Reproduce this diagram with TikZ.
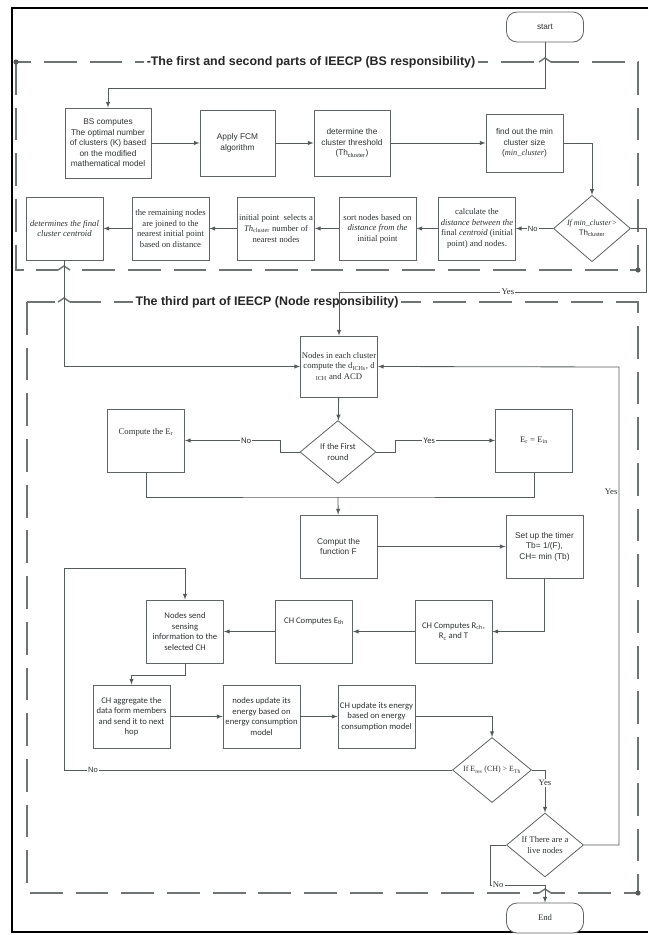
\documentclass[tikz,border=0pt]{standalone}
\usepackage{fontspec}
\setmainfont{Liberation Sans}
\newfontfamily\tmsfont{Liberation Serif}
\newfontfamily\calfont{Carlito}
\usetikzlibrary{shapes.geometric,arrows.meta,calc}
\definecolor{boxgray}{HTML}{5F6566}
\definecolor{flowgray}{HTML}{555A5B}
\definecolor{contgray}{HTML}{6E7374}
\definecolor{txtgray}{HTML}{2E3233}
\tikzset{>=latex,
	box/.style={draw=boxgray,line width=0.7pt,fill=white,align=center,inner sep=1pt,minimum width=2.31cm,minimum height=1.89cm,text=txtgray,font=\fontsize{7.1}{9}\selectfont},
	cond/.style={diamond,draw=boxgray,line width=0.7pt,fill=white,align=center,inner sep=0pt,text=txtgray,font=\fontsize{6.8}{8.3}\selectfont},
	term/.style={draw=boxgray,line width=0.7pt,fill=white,rounded corners=9pt,minimum width=2.31cm,minimum height=0.9cm,text=txtgray,font=\fontsize{7}{8}\selectfont},
	serif/.style={font=\tmsfont\fontsize{7.4}{9}\selectfont},
	calib/.style={font=\calfont\fontsize{7.4}{9}\selectfont},
	flow/.style={draw=flowgray,line width=0.7pt},
	part/.style={draw=contgray,line width=2.2pt,dash pattern=on 28pt off 11pt},
	parttitle/.style={fill=white,inner sep=2pt,text=black!85,font=\bfseries\fontsize{10.6}{12}\selectfont},
	lbl/.style={fill=white,inner sep=1pt,text=txtgray,font=\fontsize{6.5}{7}\selectfont},
	jump/.pic={\fill[white] (-6,-2) rectangle (6,2); \draw[contgray,line width=1.2pt] (-6,0) -- (0,-4) -- (6,0);}
}

\begin{document}
\begin{tikzpicture}[x=0.03cm,y=-0.03cm]
	\useasboundingbox (0,0) rectangle (648,935);
	\fill[white] (0,0) rectangle (648,935);
	\draw[black,line width=0.9pt] (648,8) -- (12,8) -- (12,932) -- (648,932);
	
	\draw[part] (16,62) rectangle (638,270);
	\draw[part] (27,302) rectangle (638,893);
	\fill[flowgray] (16,62) circle (2.2pt) (638,270) circle (2.2pt) (638,893) circle (2.2pt);
	\node[parttitle] (t1) at (311,62) {-The first and second parts of IEECP (BS responsibility)};
	\node[parttitle] (t2) at (267,302) {The third part of IEECP (Node responsibility)};
	\pic at (545,62) {jump};
	\pic at (64,270) {jump};
	\pic at (64,302) {jump};
	\pic at (545,893) {jump};
	
	\node[term] (start) at (545,27) {start};
	\node[box,minimum width=2.58cm,minimum height=2.1cm] (bs) at (108,143) {BS computes\\The optimal number\\of clusters (K) based\\on the modified\\mathematical model};
	\node[box,minimum width=2.25cm,minimum height=1.98cm] (fcm) at (237.5,143) {Apply FCM\\algorithm};
	\node[box,minimum width=2.28cm,minimum height=1.98cm] (thr) at (352,143) {determine the\\cluster threshold\\(Th\textsubscript{cluster})};
	\node[box,minimum height=1.74cm] (minc) at (524.5,143) {find out the min\\cluster size\\({\tmsfont\itshape min\_cluster})};
	\node[cond,minimum width=2.31cm,minimum height=1.86cm] (d1) at (592,228.5) {{\tmsfont\itshape If min\_cluster>}\\Th\textsubscript{cluster}};
	
	\node[box,serif] (calc) at (477,228.5) {calculate the\\\textit{distance between the}\\final \textit{centroid} (initial\\point) and nodes.};
	\node[box,serif] (sort) at (377.5,228.5) {sort nodes based on\\\textit{distance from the}\\initial point};
	\node[box,serif] (init) at (276,228.5) {initial point\ \ selects a\\\textit{Th}\textsubscript{cluster} number of\\nearest nodes};
	\node[box,serif] (rem) at (170.5,228.5) {the remaining nodes\\are joined to the\\nearest initial point\\based on distance};
	\node[box,serif] (fin) at (64.5,228.5) {\textit{determines the final}\\\textit{cluster centroid}};
	
	\node[box,serif,minimum height=1.83cm] (nd) at (339,366.5) {Nodes in each cluster\\compute the d\textsubscript{ICHs}, d\\\textsubscript{ICH} and ACD};
	\node[cond,calib,minimum width=2.28cm,minimum height=1.89cm] (d2) at (338,452) {If the First\\round};
	\node[box,serif] (cer) at (146,440.5) {\raisebox{16pt}{Compute the E\textsubscript{r}}};
	\node[box,serif] (ein) at (534,440.5) {E\textsubscript{r} = E\textsubscript{in}};
	\node[box] (fn) at (338.5,546.5) {Comput the\\function F};
	\node[box] (tmr) at (544.5,546.5) {Set up the timer\\Tb= 1/(F),\\CH= min (Tb)};
	\node[box,calib] (chr) at (453.5,631.5) {CH Computes R\textsubscript{ch},\\R\textsubscript{c} and T};
	\node[box,calib] (cheth) at (314,631.5) {\raisebox{19pt}{CH Computes E\textsubscript{th}}};
	\node[box,calib] (send) at (185,631.5) {Nodes send\\sensing\\information to the\\selected CH};
	\node[box,calib] (agg) at (131.5,716.5) {CH aggregate the\\data form members\\and send it to next\\hop};
	\node[box,calib] (nup) at (261.5,716.5) {nodes update its\\energy based on\\energy consumption\\model};
	\node[box,calib] (chu) at (376.5,716.5) {CH update its energy\\based on energy\\consumption model};
	\node[cond,serif,font=\tmsfont\fontsize{6.8}{8}\selectfont,minimum width=2.37cm,minimum height=1.92cm] (d3) at (492,770) {If E\textsubscript{res} (CH) > E\textsubscript{Th}};
	\node[cond,serif,minimum width=2.31cm,minimum height=1.92cm] (d4) at (545,845) {If There are a\\live nodes};
	\node[term,serif] (end) at (545,918) {End};
	
	\coordinate (sj) at (545,88);
	\coordinate (yb) at (646,292);
	\coordinate (mrg) at (338,497);
	\coordinate (la) at (64,770);
	\coordinate (lb) at (64,568);
	\coordinate (yr) at (619,367);
	\coordinate (na) at (490,885);
	
	\draw[flow,->] (start.south) -- (sj) -| (bs.north);
	\draw[flow,->] (bs) -- (fcm);
	\draw[flow,->] (fcm) -- (thr);
	\draw[flow,->] (thr) -- (minc);
	\draw[flow,->] (minc.east) -| (d1.north);
	\draw[flow,->] (d1) -- node[lbl,pos=0.55]{No} (calc);
	\draw[flow,->] (calc) -- (sort);
	\draw[flow,->] (sort) -- (init);
	\draw[flow,->] (init) -- (rem);
	\draw[flow,->] (rem) -- (fin);
	\draw[flow,->] (d1.east) -| (yb) -| node[lbl,serif,pos=0.225]{Yes} (nd.north);
	\draw[flow,->] (fin.south) |- (nd.west);
	
	\draw[flow,->] (nd) -- (d2);
	\draw[flow,->] (d2.west) -- ++(-19,0) |- node[lbl,calib,pos=0.68]{No} (cer.east);
	\draw[flow,->] (d2.east) -- ++(19,0) |- node[lbl,calib,pos=0.67]{Yes} (ein.west);
	\draw[flow] (cer.south) |- (mrg) -| (ein.south);
	\draw[flow,->] (mrg) -- (fn);
	\draw[flow,->] (fn) -- (tmr);
	\draw[flow,->] (tmr.south) |- (chr.east);
	\draw[flow,->] (chr) -- (cheth);
	\draw[flow,->] (cheth) -- (send);
	\draw[flow,->] (send.south) -- ++(0,12) -| (agg.north);
	\draw[flow,->] (agg) -- (nup);
	\draw[flow,->] (nup) -- (chu);
	\draw[flow,->] (chu.east) -| (d3.north);
	\draw[flow,->] (d3.west) -- node[lbl,pos=0.925]{No} (la) -- (lb) -| (send.north);
	\draw[flow,->] (d3.east) -| node[lbl,serif,pos=0.65]{Yes} (d4.north);
	\draw[flow,->] (d4.east) -| node[lbl,serif,fill=none,left,pos=0.87]{Yes} (yr) -- (nd.east);
	\draw[flow,->] (d4.west) -| (na) -- node[lbl,serif,pos=0.15]{No} (na -| end) -- (end.north);
\end{tikzpicture}
\end{document}
